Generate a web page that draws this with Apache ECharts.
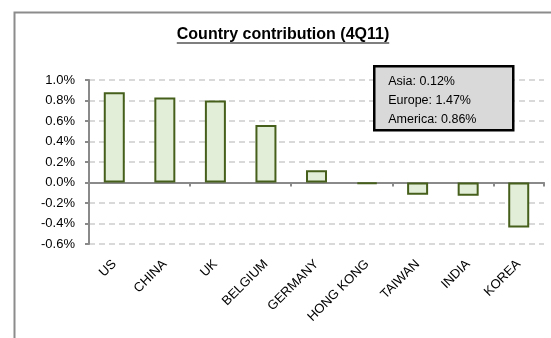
<!DOCTYPE html>
<html>
<head>
<meta charset="utf-8">
<script src="https://cdn.jsdelivr.net/npm/echarts@6/dist/echarts.min.js"></script>
<style>
  html, body { margin: 0; padding: 0; background: #fff; }
  #chart { width: 551px; height: 338px; }
</style>
</head>
<body>
<div id="chart"></div>
<script>
	// 国家分类
	var countries = ['US', 'CHINA', 'UK', 'BELGIUM', 'GERMANY', 'HONG KONG', 'TAIWAN', 'INDIA', 'KOREA'];
	// 贡献值（%）
	var contribution = [0.88, 0.83, 0.80, 0.56, 0.12, -0.015, -0.12, -0.13, -0.44];
	// 文本框：地区汇总
	var regionNames = ['Asia', 'Europe', 'America'];
	var regionValues = ['0.12%', '1.47%', '0.86%'];

	var titleText = 'Country contribution (4Q11)';
	var titleX = 283;

	//测量标题宽度，用于画下划线
	var ctx = document.createElement('canvas').getContext('2d');
	ctx.font = 'bold 16px "Liberation Sans"';
	var titleW = ctx.measureText(titleText).width;

	var boxLines = regionNames.map(function (n, i) {
		return {
			type: 'text',
			z: 101,
			left: 14,
			top: 9 + i * 19,
			style: {
				text: n + ': ' + regionValues[i],
				fontFamily: 'Liberation Sans',
				fontSize: 12.5,
				fill: '#000'
			}
		};
	});

	var myChart = echarts.init(document.getElementById('chart'));
	var option = {
		backgroundColor: '#fff',
		animation: false,
		grid: {
			left: 89,
			right: 7,
			top: 80,
			bottom: 94
		},
		xAxis: [
			{
				//零线和刻度
				type: 'category',
				data: countries,
				axisLine: { onZero: true, lineStyle: { color: '#8a8a8a', width: 2 } },
				axisTick: { show: true, length: 4, lineStyle: { color: '#8a8a8a', width: 2 } },
				axisLabel: { show: false },
				splitLine: { show: false }
			},
			{
				//底部标签
				type: 'category',
				position: 'bottom',
				data: countries,
				axisLine: { show: false, onZero: false },
				axisTick: { show: false },
				axisLabel: {
					rotate: 45,
					margin: 18,
					interval: 0,
					fontFamily: 'Liberation Sans',
					fontSize: 13,
					color: '#000'
				}
			}
		],
		yAxis: {
			type: 'value',
			min: -0.6,
			max: 1.0,
			interval: 0.2,
			axisLine: { show: true, lineStyle: { color: '#8a8a8a', width: 2 } },
			axisTick: { show: true, length: 4, lineStyle: { color: '#8a8a8a', width: 2 } },
			axisLabel: {
				margin: 14,
				fontFamily: 'Liberation Sans',
				fontSize: 13,
				color: '#000',
				formatter: function (v) { return v.toFixed(1) + '%'; }
			},
			splitLine: {
				show: true,
				lineStyle: { color: '#d9d9d9', width: 2, type: [6, 4] }
			}
		},
		series: [
			{
				type: 'bar',
				xAxisIndex: 0,
				data: contribution,
				barWidth: 21,
				itemStyle: {
					color: '#e3eed8',
					borderColor: '#46601c',
					borderWidth: 2
				}
			}
		],
		graphic: [
			{
				//外框
				type: 'rect',
				left: 12,
				top: 10,
				shape: { width: 600, height: 400 },
				style: { fill: 'none', stroke: '#8c8c8c', lineWidth: 2 },
				z: 0
			},
			{
				//标题
				type: 'text',
				x: titleX,
				y: 27,
				z: 10,
				style: {
					text: titleText,
					align: 'center',
					verticalAlign: 'top',
					fontFamily: 'Liberation Sans',
					fontSize: 16,
					fontWeight: 'bold',
					fill: '#000'
				}
			},
			{
				//标题下划线
				type: 'line',
				shape: { x1: titleX - titleW / 2, y1: 43, x2: titleX + titleW / 2, y2: 43 },
				style: { stroke: '#000', lineWidth: 1.2 },
				z: 10
			},
			{
				type: 'group',
				left: 373,
				top: 65,
				z: 100,
				children: [
					{
						type: 'rect',
						z: 100,
						shape: { x: 0, y: 0, width: 139, height: 64 },
						style: { fill: '#d9d9d9', stroke: '#000', lineWidth: 2.5 }
					}
				].concat(boxLines)
			}
		]
	};
	myChart.setOption(option);
</script>
</body>
</html>
